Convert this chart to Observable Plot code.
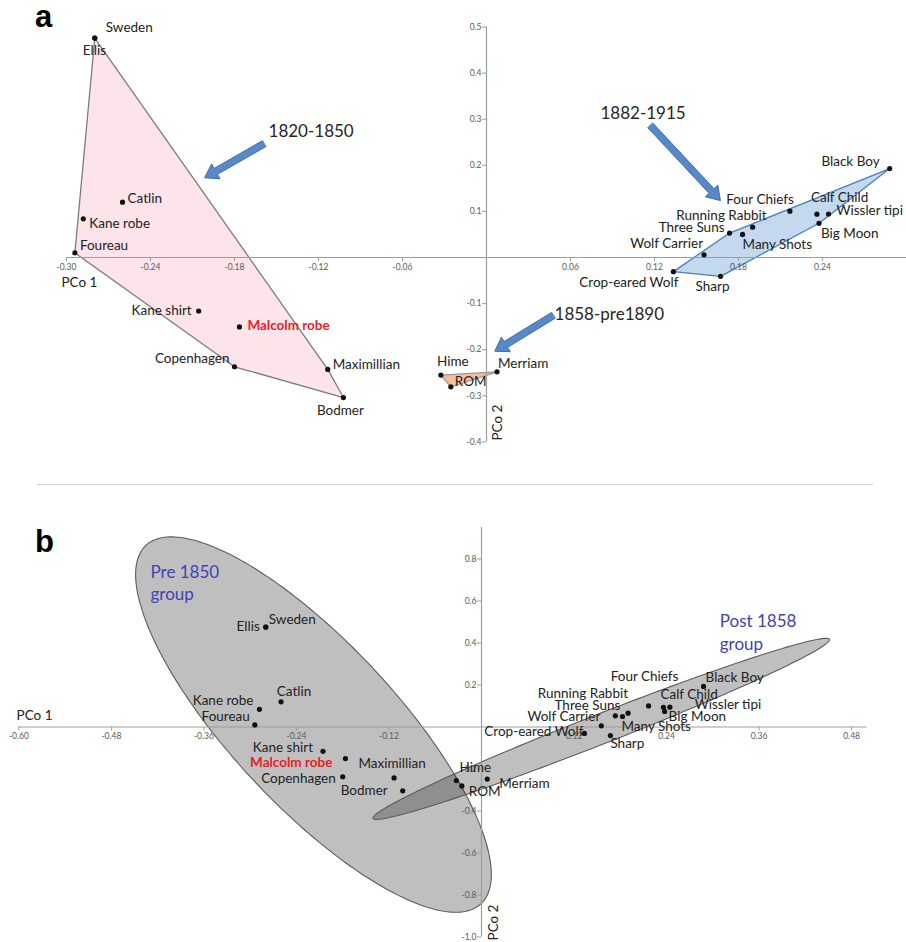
<!DOCTYPE html>
<html><head><meta charset="utf-8">
<script src="https://cdn.jsdelivr.net/npm/d3@7"></script>
<script src="https://cdn.jsdelivr.net/npm/@observablehq/plot@0.6"></script>
<style>
html,body{margin:0;padding:0;background:#fff;}
#wrap{position:relative;width:906px;height:942px;overflow:hidden;font-family:Lato,sans-serif;}
.panel{position:absolute;left:0;}
.tag{position:absolute;font-family:"Liberation Sans",Arial,sans-serif;font-weight:bold;font-size:31px;line-height:1;color:#000;}
#sep{position:absolute;left:37px;top:484px;width:836px;height:1px;background:#d4d4d4;}
</style></head><body>
<div id="wrap">
 <div id="pa" class="panel" style="top:0"></div>
 <div id="sep"></div>
 <div id="pb" class="panel" style="top:484px"></div>
 <div class="tag" style="left:35px;top:1px">a</div>
 <div class="tag" style="left:35px;top:526px">b</div>
</div>
<script>
// ---------- data ----------
const names = ["Sweden","Ellis","Catlin","Kane robe","Foureau","Kane shirt","Malcolm robe","Copenhagen","Maximillian","Bodmer",
  "Hime","ROM","Merriam",
  "Crop-eared Wolf","Sharp","Wolf Carrier","Three Suns","Many Shots","Running Rabbit","Four Chiefs","Calf Child","Wissler tipi","Big Moon","Black Boy"];
const pco1 = [-0.2798,-0.2798,-0.260,-0.288,-0.294,-0.2056,-0.1765,-0.180,-0.1134,-0.1022,
  -0.0326,-0.0255,0.0075,
  0.1335,0.1672,0.1554,0.1736,0.1829,0.1901,0.2167,0.236,0.2443,0.2375,0.288];
const pco2 = [0.476,0.476,0.120,0.084,0.010,-0.116,-0.1505,-0.237,-0.2427,-0.3038,
  -0.255,-0.2805,-0.248,
  -0.0307,-0.0408,0.0058,0.053,0.050,0.0658,0.1004,0.094,0.0943,0.0742,0.193];
const period = ["1820-1850","1820-1850","1820-1850","1820-1850","1820-1850","1820-1850","1820-1850","1820-1850","1820-1850","1820-1850",
  "1858-pre1890","1858-pre1890","1858-pre1890",
  "1882-1915","1882-1915","1882-1915","1882-1915","1882-1915","1882-1915","1882-1915","1882-1915","1882-1915","1882-1915","1882-1915"];
const cluster = names.map((n,i) => i < 10 ? "Pre 1850" : "Post 1858");

const xTicksA = [-0.30,-0.24,-0.18,-0.12,-0.06,0.06,0.12,0.18,0.24];
const yTicksA = [0.5,0.4,0.3,0.2,0.1,-0.1,-0.2,-0.3,-0.4];
const xTicksB = [-0.60,-0.48,-0.36,-0.24,-0.12,0.12,0.24,0.36,0.48];
const yTicksB = [0.8,0.6,0.4,0.2,-0.2,-0.4,-0.6,-0.8,-1.0];

const hullGroups = ["1820-1850","1858-pre1890","1882-1915"];
const hullFill = ["#fce4ea","#f5bd98","#c4d8ee"];
const hullStroke = ["#7c7c7c","#9a9a9a","#4a7ebb"];

const arrowLabels = ["1820-1850","1882-1915","1858-pre1890"];
const arrowTailX = [-0.159, 0.1171, 0.0476];
const arrowTailY = [0.2466, 0.2863, -0.1258];
const arrowTipX = [-0.2014, 0.1671, 0.0059];
const arrowTipY = [0.1729, 0.1236, -0.2033];
const arrowTextX = [-0.1557, 0.0814, 0.0486];
const arrowTextY = [0.2733, 0.3116, -0.1236];

const groupLabels = ["Pre 1850\ngroup","Post 1858\ngroup"];
const groupLabelX = [-0.4293, 0.309];
const groupLabelY = [0.691, 0.456];

// label placement (anchor, dx px, dy px) per point, panel a / panel b
const labelA = [["start",11,-10],["start",-12,13],["start",5,-4],["start",6,5],["start",5,-7],["end",-7,0],["start",8,-1],["end",-5,-8],["start",5,-5],["middle",-3,13],
  ["middle",12,-13],["start",4,-5],["start",1,-8],
  ["end",5,11],["middle",-8,10],["end",-1,-11],["end",-5,-5],["start",0,10],["end",14,-11],["end",4,-12],["start",-6,-16],["start",8,-3],["start",2,10],["end",-10,-7]];
const labelB = [["start",3,-7],["end",-6,0],["middle",13,-10],["end",-6,-9],["end",-5,-8],["end",-10,-4],["end",-13,4],["end",-7,2],["middle",-2,-14],["end",-15,0],
  ["middle",19,-13],["start",7,6],["start",12,5],
  ["end",-1,-2],["start",0,8],["end",-1,-9],["end",5,-10],["start",-1,10],["end",0,-20],["middle",-4,-29],["start",-3,-13],["start",25,-3],["start",4,5],["start",2,-9]];

// ---------- helpers ----------
const rows = names.map((name,i) => ({name, x: pco1[i], y: pco2[i], period: period[i], cluster: cluster[i], i}));
const axisStroke = "#9d9d9d", tickText = "#5a5a5a", labelColor = "#222";

function dims(c){
  const iw = c.width - c.ml - c.mr, ih = c.height - c.mt - c.mb;
  return {iw, ih, sx: iw/(c.xd[1]-c.xd[0]), sy: ih/(c.yd[1]-c.yd[0])};
}

function ellipsePoints(group){
  const pts = rows.filter(d => d.cluster === group);
  const n = pts.length;
  const mx = d3.mean(pts, d => d.x), my = d3.mean(pts, d => d.y);
  let sxx=0, syy=0, sxy=0;
  for (const d of pts){ sxx += (d.x-mx)**2; syy += (d.y-my)**2; sxy += (d.x-mx)*(d.y-my); }
  sxx /= n-1; syy /= n-1; sxy /= n-1;
  const m = n - 2;
  const F = (m/2) * (Math.pow(0.05, -2/m) - 1);      // F(0.95; 2, n-2)
  const k = Math.sqrt(2*(n-1)/m * F);                 // 95% concentration ellipse
  const l11 = Math.sqrt(sxx), l21 = sxy/l11, l22 = Math.sqrt(syy - l21*l21);
  return d3.range(0, 240).map(j => {
    const t = j/240*2*Math.PI, u = Math.cos(t), v = Math.sin(t);
    return {group, x: mx + k*l11*u, y: my + k*(l21*u + l22*v)};
  });
}

function blockArrows(d){
  const out = [];
  arrowLabels.forEach((lab, i) => {
    const px = (arrowTipX[i]-arrowTailX[i])*d.sx, py = -(arrowTipY[i]-arrowTailY[i])*d.sy;
    const len = Math.hypot(px, py), ux = px/len, uy = py/len, nx = -uy, ny = ux;
    const sw = 3.4, hw = 8.5, hl = 13;
    const nk = len - hl;
    const local = [[0,sw],[nk,sw],[nk,hw],[len,0],[nk,-hw],[nk,-sw],[0,-sw]];
    local.forEach(([a,b]) => {
      const ox = ux*a + nx*b, oy = uy*a + ny*b;
      out.push({id: i, x: arrowTailX[i] + ox/d.sx, y: arrowTailY[i] - oy/d.sy});
    });
  });
  return out;
}

function pointLabels(place){
  return rows.map((r,i) => {
    const [anchor, dx, dy] = place[i];
    const red = r.name === "Malcolm robe";
    return Plot.text([r], {x: "x", y: "y", text: "name", textAnchor: anchor, dx, dy,
      fill: red ? "#ee1c25" : labelColor, fontWeight: red ? "bold" : "normal", fontSize: 13.5});
  });
}

function axes(c, d, xt, yt, xfmt, yfmt){
  const dyAxis = -(0 - c.yd[0]) * d.sy;
  const dxAxis = (0 - c.xd[0]) * d.sx;
  return [
    Plot.ruleY([0], {x1: c.xd[0], x2: c.xline, stroke: axisStroke, strokeWidth: 1.2}),
    Plot.ruleX([0], {y1: c.yd[0], y2: c.yline, stroke: axisStroke, strokeWidth: 1.2}),
    Plot.axisX(xt, {anchor: "bottom", dy: dyAxis, tickSize: 4, tickPadding: 2, tickFormat: xfmt,
      stroke: axisStroke, fill: tickText, fontSize: 8.5, label: null}),
    Plot.axisY(yt, {anchor: "left", dx: dxAxis, tickSize: 4, tickPadding: 1, tickFormat: yfmt,
      stroke: axisStroke, fill: tickText, fontSize: 8.5, label: null})
  ];
}

// ---------- panel a ----------
const cA = {width: 906, height: 484, ml: 66, mr: 0, mt: 26.5, mb: 42.6, xd: [-0.30, 0.30], yd: [-0.4, 0.5], xline: 0.30, yline: 0.5};
const dA = dims(cA);
const plotA = Plot.plot({
  width: cA.width, height: cA.height,
  marginLeft: cA.ml, marginRight: cA.mr, marginTop: cA.mt, marginBottom: cA.mb,
  x: {domain: cA.xd}, y: {domain: cA.yd},
  style: {fontFamily: "Lato, sans-serif", background: "transparent"},
  marks: [
    ...hullGroups.map((g,i) => Plot.hull(rows.filter(r => r.period === g), {x: "x", y: "y", fill: hullFill[i], stroke: hullStroke[i], strokeWidth: 1.3})),
    ...axes(cA, dA, xTicksA, yTicksA, v => v.toFixed(2), v => v.toFixed(1)),
    Plot.line(blockArrows(dA), {x: "x", y: "y", z: "id", curve: "linear-closed", fill: "#5788c8", stroke: "#3f6ca6", strokeWidth: 1}),
    Plot.text(arrowLabels, {x: (d,i) => arrowTextX[i], y: (d,i) => arrowTextY[i], text: d => d, textAnchor: "start", fontSize: 17, fill: "#262626"}),
    Plot.dot(rows, {x: "x", y: "y", r: 2.6, fill: "#111"}),
    ...pointLabels(labelA),
    Plot.text(["PCo 1"], {x: -0.3036, y: -0.0542, text: d => d, textAnchor: "start", fontSize: 13.5, fill: labelColor}),
    Plot.text(["PCo 2"], {x: 0.0079, y: -0.358, text: d => d, rotate: -90, fontSize: 13.5, fill: labelColor})
  ]
});
document.getElementById("pa").appendChild(plotA);

// ---------- panel b ----------
const cB = {width: 906, height: 458, ml: 18.4, mr: 39.5, mt: 43, mb: 5.5, xd: [-0.60, 0.50], yd: [-1.0, 0.95], xline: 0.50, yline: 0.95};
const dB = dims(cB);
const ell = [...ellipsePoints("Pre 1850"), ...ellipsePoints("Post 1858")];
const plotB = Plot.plot({
  width: cB.width, height: cB.height,
  marginLeft: cB.ml, marginRight: cB.mr, marginTop: cB.mt, marginBottom: cB.mb,
  x: {domain: cB.xd}, y: {domain: cB.yd},
  style: {fontFamily: "Lato, sans-serif", background: "transparent"},
  marks: [
    Plot.line(ell, {x: "x", y: "y", z: "group", curve: "linear-closed", fill: "black", fillOpacity: 0.25, stroke: "#5c5c5c", strokeWidth: 1.1}),
    ...axes(cB, dB, xTicksB, yTicksB, v => v.toFixed(2), v => v.toFixed(1)),
    Plot.text(groupLabels, {x: (d,i) => groupLabelX[i], y: (d,i) => groupLabelY[i], text: d => d, textAnchor: "start", lineHeight: 1.33, fontSize: 17, fill: "#4141b9"}),
    Plot.dot(rows, {x: "x", y: "y", r: 2.6, fill: "#111"}),
    ...pointLabels(labelB),
    Plot.text(["PCo 1"], {x: -0.603, y: 0.0548, text: d => d, textAnchor: "start", fontSize: 13.5, fill: labelColor}),
    Plot.text(["PCo 2"], {x: 0.0156, y: -0.931, text: d => d, rotate: -90, fontSize: 13.5, fill: labelColor})
  ]
});
document.getElementById("pb").appendChild(plotB);
</script>
</body></html>
